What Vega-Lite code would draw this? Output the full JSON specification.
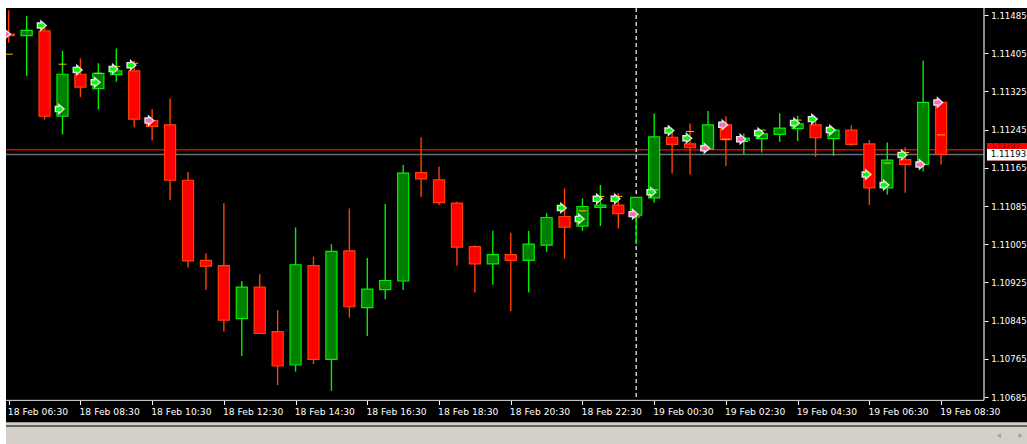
{"$schema":"https://vega.github.io/schema/vega-lite/v6.json","width":1021,"height":436,"autosize":"none","padding":{"left":6,"top":8,"right":0,"bottom":0},"background":"#ffffff","config":{"view":{"fill":"#000000","stroke":null}},
"datasets":{"candles":[
{"t":"2020-02-18T06:30:00Z","o":1.11445,"h":1.11495,"l":1.11427,"c":1.11442,"dir":"down"},
{"t":"2020-02-18T07:00:00Z","o":1.11442,"h":1.11483,"l":1.11357,"c":1.11453,"dir":"up"},
{"t":"2020-02-18T07:30:00Z","o":1.11452,"h":1.1146,"l":1.11266,"c":1.11273,"dir":"down"},
{"t":"2020-02-18T08:00:00Z","o":1.11273,"h":1.1141,"l":1.11235,"c":1.11361,"dir":"up"},
{"t":"2020-02-18T08:30:00Z","o":1.11361,"h":1.11394,"l":1.11313,"c":1.11334,"dir":"down"},
{"t":"2020-02-18T09:00:00Z","o":1.11331,"h":1.11384,"l":1.11287,"c":1.11363,"dir":"up"},
{"t":"2020-02-18T09:30:00Z","o":1.1136,"h":1.11415,"l":1.11345,"c":1.11368,"dir":"up"},
{"t":"2020-02-18T10:00:00Z","o":1.11368,"h":1.11389,"l":1.1125,"c":1.11267,"dir":"down"},
{"t":"2020-02-18T10:30:00Z","o":1.11264,"h":1.11288,"l":1.11222,"c":1.11252,"dir":"down"},
{"t":"2020-02-18T11:00:00Z","o":1.11255,"h":1.1131,"l":1.11097,"c":1.11139,"dir":"down"},
{"t":"2020-02-18T11:30:00Z","o":1.11139,"h":1.11156,"l":1.10956,"c":1.1097,"dir":"down"},
{"t":"2020-02-18T12:00:00Z","o":1.10971,"h":1.10986,"l":1.10909,"c":1.10959,"dir":"down"},
{"t":"2020-02-18T12:30:00Z","o":1.1096,"h":1.11091,"l":1.10822,"c":1.10846,"dir":"down"},
{"t":"2020-02-18T13:00:00Z","o":1.10849,"h":1.10928,"l":1.10771,"c":1.10915,"dir":"up"},
{"t":"2020-02-18T13:30:00Z","o":1.10915,"h":1.10942,"l":1.10818,"c":1.10818,"dir":"down"},
{"t":"2020-02-18T14:00:00Z","o":1.10822,"h":1.10867,"l":1.1071,"c":1.1075,"dir":"down"},
{"t":"2020-02-18T14:30:00Z","o":1.10752,"h":1.1104,"l":1.10738,"c":1.10962,"dir":"up"},
{"t":"2020-02-18T15:00:00Z","o":1.1096,"h":1.10979,"l":1.10754,"c":1.10764,"dir":"down"},
{"t":"2020-02-18T15:30:00Z","o":1.10764,"h":1.11005,"l":1.10698,"c":1.1099,"dir":"up"},
{"t":"2020-02-18T16:00:00Z","o":1.10991,"h":1.1108,"l":1.10851,"c":1.10874,"dir":"down"},
{"t":"2020-02-18T16:30:00Z","o":1.10872,"h":1.10976,"l":1.10813,"c":1.10911,"dir":"up"},
{"t":"2020-02-18T17:00:00Z","o":1.1091,"h":1.11089,"l":1.1089,"c":1.10929,"dir":"up"},
{"t":"2020-02-18T17:30:00Z","o":1.10928,"h":1.11171,"l":1.10909,"c":1.11154,"dir":"up"},
{"t":"2020-02-18T18:00:00Z","o":1.11155,"h":1.11229,"l":1.11104,"c":1.11142,"dir":"down"},
{"t":"2020-02-18T18:30:00Z","o":1.1114,"h":1.11167,"l":1.11087,"c":1.11092,"dir":"down"},
{"t":"2020-02-18T19:00:00Z","o":1.11091,"h":1.11094,"l":1.1096,"c":1.10999,"dir":"down"},
{"t":"2020-02-18T19:30:00Z","o":1.11,"h":1.11003,"l":1.10904,"c":1.10964,"dir":"down"},
{"t":"2020-02-18T20:00:00Z","o":1.10964,"h":1.11033,"l":1.1092,"c":1.10983,"dir":"up"},
{"t":"2020-02-18T20:30:00Z","o":1.10983,"h":1.11029,"l":1.10865,"c":1.10971,"dir":"down"},
{"t":"2020-02-18T21:00:00Z","o":1.10971,"h":1.11033,"l":1.10904,"c":1.11005,"dir":"up"},
{"t":"2020-02-18T21:30:00Z","o":1.11003,"h":1.1107,"l":1.10989,"c":1.11061,"dir":"up"},
{"t":"2020-02-18T22:00:00Z","o":1.11063,"h":1.11122,"l":1.10975,"c":1.11041,"dir":"down"},
{"t":"2020-02-18T22:30:00Z","o":1.11043,"h":1.11101,"l":1.11033,"c":1.11084,"dir":"up"},
{"t":"2020-02-18T23:00:00Z","o":1.11082,"h":1.11129,"l":1.11043,"c":1.11087,"dir":"up"},
{"t":"2020-02-18T23:30:00Z","o":1.11087,"h":1.11112,"l":1.11038,"c":1.11069,"dir":"down"},
{"t":"2020-02-19T00:00:00Z","o":1.11066,"h":1.11104,"l":1.11005,"c":1.11103,"dir":"up"},
{"t":"2020-02-19T00:30:00Z","o":1.11102,"h":1.11279,"l":1.11092,"c":1.1123,"dir":"up"},
{"t":"2020-02-19T01:00:00Z","o":1.11229,"h":1.11242,"l":1.11153,"c":1.11214,"dir":"down"},
{"t":"2020-02-19T01:30:00Z","o":1.11215,"h":1.11258,"l":1.11151,"c":1.11207,"dir":"down"},
{"t":"2020-02-19T02:00:00Z","o":1.11204,"h":1.11284,"l":1.11204,"c":1.11255,"dir":"up"},
{"t":"2020-02-19T02:30:00Z","o":1.11255,"h":1.11273,"l":1.11169,"c":1.11224,"dir":"down"},
{"t":"2020-02-19T03:00:00Z","o":1.11223,"h":1.11237,"l":1.11193,"c":1.11227,"dir":"up"},
{"t":"2020-02-19T03:30:00Z","o":1.11226,"h":1.11244,"l":1.11197,"c":1.11236,"dir":"up"},
{"t":"2020-02-19T04:00:00Z","o":1.11235,"h":1.11279,"l":1.11219,"c":1.11248,"dir":"up"},
{"t":"2020-02-19T04:30:00Z","o":1.11247,"h":1.11274,"l":1.11221,"c":1.11257,"dir":"up"},
{"t":"2020-02-19T05:00:00Z","o":1.11255,"h":1.11265,"l":1.11188,"c":1.11228,"dir":"down"},
{"t":"2020-02-19T05:30:00Z","o":1.11226,"h":1.11248,"l":1.1119,"c":1.11244,"dir":"up"},
{"t":"2020-02-19T06:00:00Z","o":1.11244,"h":1.11254,"l":1.11211,"c":1.11214,"dir":"down"},
{"t":"2020-02-19T06:30:00Z","o":1.11215,"h":1.11223,"l":1.11087,"c":1.11123,"dir":"down"},
{"t":"2020-02-19T07:00:00Z","o":1.11123,"h":1.11218,"l":1.11109,"c":1.11181,"dir":"up"},
{"t":"2020-02-19T07:30:00Z","o":1.11182,"h":1.11208,"l":1.11113,"c":1.11172,"dir":"down"},
{"t":"2020-02-19T08:00:00Z","o":1.11172,"h":1.11389,"l":1.11158,"c":1.11302,"dir":"up"},
{"t":"2020-02-19T08:30:00Z","o":1.11302,"h":1.11302,"l":1.11172,"c":1.11193,"dir":"down"}
],
"signals":[
{"t":"2020-02-18T06:25:00Z","p":1.11445,"kind":"sell"},
{"t":"2020-02-18T10:25:00Z","p":1.11264,"kind":"sell"},
{"t":"2020-02-18T23:55:00Z","p":1.11068,"kind":"sell"},
{"t":"2020-02-19T01:55:00Z","p":1.11206,"kind":"sell"},
{"t":"2020-02-19T02:25:00Z","p":1.11255,"kind":"sell"},
{"t":"2020-02-19T02:55:00Z","p":1.11225,"kind":"sell"},
{"t":"2020-02-19T08:25:00Z","p":1.11302,"kind":"sell"},
{"t":"2020-02-19T07:55:00Z","p":1.11172,"kind":"sell"},
{"t":"2020-02-18T07:25:00Z","p":1.11463,"kind":"buy"},
{"t":"2020-02-18T07:55:00Z","p":1.11288,"kind":"buy"},
{"t":"2020-02-18T08:25:00Z","p":1.1137,"kind":"buy"},
{"t":"2020-02-18T08:55:00Z","p":1.11344,"kind":"buy"},
{"t":"2020-02-18T09:25:00Z","p":1.11372,"kind":"buy"},
{"t":"2020-02-18T09:55:00Z","p":1.1138,"kind":"buy"},
{"t":"2020-02-18T21:55:00Z","p":1.11081,"kind":"buy"},
{"t":"2020-02-18T22:25:00Z","p":1.11058,"kind":"buy"},
{"t":"2020-02-18T22:55:00Z","p":1.111,"kind":"buy"},
{"t":"2020-02-18T23:25:00Z","p":1.111,"kind":"buy"},
{"t":"2020-02-19T00:25:00Z","p":1.11114,"kind":"buy"},
{"t":"2020-02-19T00:55:00Z","p":1.11243,"kind":"buy"},
{"t":"2020-02-19T01:25:00Z","p":1.11227,"kind":"buy"},
{"t":"2020-02-19T03:25:00Z","p":1.11238,"kind":"buy"},
{"t":"2020-02-19T04:25:00Z","p":1.11259,"kind":"buy"},
{"t":"2020-02-19T04:55:00Z","p":1.11267,"kind":"buy"},
{"t":"2020-02-19T05:25:00Z","p":1.11244,"kind":"buy"},
{"t":"2020-02-19T06:25:00Z","p":1.11151,"kind":"buy"},
{"t":"2020-02-19T06:55:00Z","p":1.11129,"kind":"buy"},
{"t":"2020-02-19T07:25:00Z","p":1.11192,"kind":"buy"}
],
"targets":[
{"t":"2020-02-18T06:30:00Z","p":1.11403},
{"t":"2020-02-18T08:00:00Z","p":1.11382},
{"t":"2020-02-18T09:00:00Z","p":1.11363},
{"t":"2020-02-18T09:30:00Z","p":1.11377},
{"t":"2020-02-18T10:00:00Z","p":1.11384},
{"t":"2020-02-18T22:30:00Z","p":1.11075},
{"t":"2020-02-18T23:00:00Z","p":1.11105},
{"t":"2020-02-18T23:30:00Z","p":1.11105},
{"t":"2020-02-19T00:00:00Z","p":1.11062},
{"t":"2020-02-19T00:30:00Z","p":1.11119},
{"t":"2020-02-19T01:30:00Z","p":1.11241},
{"t":"2020-02-19T02:30:00Z","p":1.11225},
{"t":"2020-02-19T03:00:00Z","p":1.1122},
{"t":"2020-02-19T03:30:00Z","p":1.11244},
{"t":"2020-02-19T04:30:00Z","p":1.11265},
{"t":"2020-02-19T07:00:00Z","p":1.11175},
{"t":"2020-02-19T07:30:00Z","p":1.11197},
{"t":"2020-02-19T08:30:00Z","p":1.11234}
]},
"layer":[
{"data":{"name":"candles"},"mark":{"type":"rule","strokeWidth":0,"clip":true},"encoding":{"x":{"field":"t","type":"temporal","scale":{"type":"utc","domain":[1582007129000,1582109628000],"nice":false,"padding":0},"title":null,"axis":{"orient":"bottom","offset":-43.5,"values":[1582007400000,1582014600000,1582021800000,1582029000000,1582036200000,1582043400000,1582050600000,1582057800000,1582065000000,1582072200000,1582079400000,1582086600000,1582093800000,1582101000000],"labelExpr":"utcFormat(datum.value,'%d %b %H:%M')","grid":false,"domain":false,"tickColor":"#ffffff","tickSize":4,"labelColor":"#ffffff","labelFont":"DejaVu Sans","labelFontSize":9.2,"labelAlign":"left","labelOffset":-1.4,"labelPadding":3,"labelOverlap":false,"labelFlush":false,"labelBound":false}},"y":{"field":"l","type":"quantitative","scale":{"domain":[1.105866,1.114997],"nice":false,"zero":false},"title":null,"axis":{"orient":"right","offset":-43,"values":[1.11485,1.11405,1.11325,1.11245,1.11165,1.11085,1.11005,1.10925,1.10845,1.10765,1.10685],"format":".5f","grid":false,"domain":false,"tickColor":"#ffffff","tickSize":4,"labelColor":"#ffffff","labelFont":"DejaVu Sans","labelFontSize":8.6,"labelPadding":2.7,"labelOverlap":false,"labelFlush":false,"labelBound":false}},"y2":{"field":"h"}}},
{"data":{"values":[{"t":1582007129000,"t2":1582109628000,"p":1.10632,"p2":1.105866}]},"mark":{"type":"rect","fill":"#d4d0c8"},"encoding":{"x":{"field":"t","type":"temporal","title":null,"axis":{"labelExpr":"utcFormat(datum.value,'%d %b %H:%M')"},"scale":{"type":"utc","domain":[1582007129000,1582109628000],"nice":false,"padding":0}},"x2":{"field":"t2"},"y":{"field":"p","type":"quantitative","title":null,"axis":{"orient":"right"},"scale":{"domain":[1.105866,1.114997],"nice":false,"zero":false}},"y2":{"field":"p2"}}},
{"data":{"values":[{"t":"2020-02-18T06:25:29Z","t2":1582109628000,"p":1.106245}]},"mark":{"type":"rule","stroke":"#404040","strokeWidth":1.5},"encoding":{"x":{"field":"t","type":"temporal","title":null,"axis":{"labelExpr":"utcFormat(datum.value,'%d %b %H:%M')"},"scale":{"type":"utc","domain":[1582007129000,1582109628000],"nice":false,"padding":0}},"x2":{"field":"t2"},"y":{"field":"p","type":"quantitative","title":null,"axis":{"orient":"right"},"scale":{"domain":[1.105866,1.114997],"nice":false,"zero":false}}}},
{"data":{"values":[{"t":"2020-02-18T06:25:29Z","t2":"2020-02-19T09:41:51Z","p":1.11203}]},"mark":{"type":"rule","strokeWidth":1.5,"stroke":"#e00000"},"encoding":{"x":{"field":"t","type":"temporal","title":null,"axis":{"labelExpr":"utcFormat(datum.value,'%d %b %H:%M')"},"scale":{"type":"utc","domain":[1582007129000,1582109628000],"nice":false,"padding":0}},"x2":{"field":"t2"},"y":{"field":"p","type":"quantitative","title":null,"axis":{"orient":"right"},"scale":{"domain":[1.105866,1.114997],"nice":false,"zero":false}}}},
{"data":{"values":[{"t":"2020-02-18T06:25:29Z","t2":"2020-02-19T09:41:51Z","p":1.11193}]},"mark":{"type":"rule","strokeWidth":1.6,"stroke":"#5f6f78"},"encoding":{"x":{"field":"t","type":"temporal","title":null,"axis":{"labelExpr":"utcFormat(datum.value,'%d %b %H:%M')"},"scale":{"type":"utc","domain":[1582007129000,1582109628000],"nice":false,"padding":0}},"x2":{"field":"t2"},"y":{"field":"p","type":"quantitative","title":null,"axis":{"orient":"right"},"scale":{"domain":[1.105866,1.114997],"nice":false,"zero":false}}}},
{"data":{"values":[{"t":"2020-02-19T00:00:00Z","p":1.114997,"p2":1.10678}]},"mark":{"type":"rule","stroke":"#c8c8c8","strokeWidth":1.5,"strokeDash":[4,3]},"encoding":{"x":{"field":"t","type":"temporal","title":null,"axis":{"labelExpr":"utcFormat(datum.value,'%d %b %H:%M')"},"scale":{"type":"utc","domain":[1582007129000,1582109628000],"nice":false,"padding":0}},"y":{"field":"p","type":"quantitative","title":null,"axis":{"orient":"right"},"scale":{"domain":[1.105866,1.114997],"nice":false,"zero":false}},"y2":{"field":"p2"}}},
{"data":{"values":[{"t":"2020-02-19T09:41:51Z","p":1.114997,"p2":1.10678}]},"mark":{"type":"rule","stroke":"#b8b8b8","strokeWidth":1.5},"encoding":{"x":{"field":"t","type":"temporal","title":null,"axis":{"labelExpr":"utcFormat(datum.value,'%d %b %H:%M')"},"scale":{"type":"utc","domain":[1582007129000,1582109628000],"nice":false,"padding":0}},"y":{"field":"p","type":"quantitative","title":null,"axis":{"orient":"right"},"scale":{"domain":[1.105866,1.114997],"nice":false,"zero":false}},"y2":{"field":"p2"}}},
{"data":{"values":[{"t":"2020-02-18T06:25:29Z","t2":"2020-02-19T09:41:51Z","p":1.10678}]},"mark":{"type":"rule","stroke":"#e0e0e0","strokeWidth":1},"encoding":{"x":{"field":"t","type":"temporal","title":null,"axis":{"labelExpr":"utcFormat(datum.value,'%d %b %H:%M')"},"scale":{"type":"utc","domain":[1582007129000,1582109628000],"nice":false,"padding":0}},"x2":{"field":"t2"},"y":{"field":"p","type":"quantitative","title":null,"axis":{"orient":"right"},"scale":{"domain":[1.105866,1.114997],"nice":false,"zero":false}}}},
{"data":{"name":"candles"},"mark":{"type":"rule","strokeWidth":1.4,"clip":true},"encoding":{"x":{"field":"t","type":"temporal","title":null,"axis":{"labelExpr":"utcFormat(datum.value,'%d %b %H:%M')"},"scale":{"type":"utc","domain":[1582007129000,1582109628000],"nice":false,"padding":0}},"y":{"field":"l","type":"quantitative","title":null,"axis":{"orient":"right"},"scale":{"domain":[1.105866,1.114997],"nice":false,"zero":false}},"y2":{"field":"h"},"stroke":{"field":"dir","type":"nominal","legend":null,"scale":{"domain":["up","down"],"range":["#00f000","#ff4000"]}}}},
{"data":{"name":"candles"},"mark":{"type":"bar","size":11.1,"strokeWidth":1.2,"clip":true},"encoding":{"x":{"field":"t","type":"temporal","title":null,"axis":{"labelExpr":"utcFormat(datum.value,'%d %b %H:%M')"},"scale":{"type":"utc","domain":[1582007129000,1582109628000],"nice":false,"padding":0}},"y":{"field":"o","type":"quantitative","title":null,"axis":{"orient":"right"},"scale":{"domain":[1.105866,1.114997],"nice":false,"zero":false}},"y2":{"field":"c"},"fill":{"field":"dir","type":"nominal","legend":null,"scale":{"domain":["up","down","buy","sell"],"range":["#008000","#ff0000","#00ff00","#ff69b4"]}},"stroke":{"field":"dir","type":"nominal","legend":null,"scale":{"domain":["up","down"],"range":["#00f000","#ff4000"]}}}},
{"data":{"name":"targets"},"mark":{"type":"tick","orient":"horizontal","size":8,"thickness":1,"color":"#ffd800","opacity":0.9,"clip":true},"encoding":{"x":{"field":"t","type":"temporal","title":null,"axis":{"labelExpr":"utcFormat(datum.value,'%d %b %H:%M')"},"scale":{"type":"utc","domain":[1582007129000,1582109628000],"nice":false,"padding":0}},"y":{"field":"p","type":"quantitative","title":null,"axis":{"orient":"right"},"scale":{"domain":[1.105866,1.114997],"nice":false,"zero":false}}}},
{"data":{"name":"signals"},"mark":{"type":"point","shape":"M-0.9,-0.55 L-0.15,-0.55 L-0.15,-1 L1,0 L-0.15,1 L-0.15,0.55 L-0.9,0.55 Z","filled":true,"size":85,"stroke":"#e4e4e4","strokeWidth":1.4,"opacity":1,"clip":true},"encoding":{"x":{"field":"t","type":"temporal","title":null,"axis":{"labelExpr":"utcFormat(datum.value,'%d %b %H:%M')"},"scale":{"type":"utc","domain":[1582007129000,1582109628000],"nice":false,"padding":0}},"y":{"field":"p","type":"quantitative","title":null,"axis":{"orient":"right"},"scale":{"domain":[1.105866,1.114997],"nice":false,"zero":false}},"fill":{"field":"kind","type":"nominal","legend":null,"scale":{"domain":["up","down","buy","sell"],"range":["#008000","#ff0000","#00ff00","#ff69b4"]}}}},
{"data":{"values":[{"t":"2020-02-19T09:46:51Z","t2":1582109628000,"p":1.11217,"p2":1.111804}]},"mark":{"type":"rect","fill":"#ff0000"},"encoding":{"x":{"field":"t","type":"temporal","title":null,"axis":{"labelExpr":"utcFormat(datum.value,'%d %b %H:%M')"},"scale":{"type":"utc","domain":[1582007129000,1582109628000],"nice":false,"padding":0}},"x2":{"field":"t2"},"y":{"field":"p","type":"quantitative","title":null,"axis":{"orient":"right"},"scale":{"domain":[1.105866,1.114997],"nice":false,"zero":false}},"y2":{"field":"p2"}}},
{"data":{"values":[{"t":"2020-02-19T09:53:03Z","p":1.1121,"label":"1.11203"}]},"mark":{"type":"text","align":"left","baseline":"middle","font":"DejaVu Sans","fontSize":7,"fill":"#700000"},"encoding":{"x":{"field":"t","type":"temporal","title":null,"axis":{"labelExpr":"utcFormat(datum.value,'%d %b %H:%M')"},"scale":{"type":"utc","domain":[1582007129000,1582109628000],"nice":false,"padding":0}},"y":{"field":"p","type":"quantitative","title":null,"axis":{"orient":"right"},"scale":{"domain":[1.105866,1.114997],"nice":false,"zero":false}},"text":{"field":"label"}}},
{"data":{"values":[{"t":"2020-02-19T09:46:51Z","t2":1582109628000,"p":1.112044,"p2":1.111803}]},"mark":{"type":"rect","fill":"#ffffff"},"encoding":{"x":{"field":"t","type":"temporal","title":null,"axis":{"labelExpr":"utcFormat(datum.value,'%d %b %H:%M')"},"scale":{"type":"utc","domain":[1582007129000,1582109628000],"nice":false,"padding":0}},"x2":{"field":"t2"},"y":{"field":"p","type":"quantitative","title":null,"axis":{"orient":"right"},"scale":{"domain":[1.105866,1.114997],"nice":false,"zero":false}},"y2":{"field":"p2"}}},
{"data":{"values":[{"t":"2020-02-19T09:53:03Z","p":1.11193,"label":"1.11193"}]},"mark":{"type":"text","align":"left","baseline":"middle","font":"DejaVu Sans","fontSize":8.6,"fill":"#000000"},"encoding":{"x":{"field":"t","type":"temporal","title":null,"axis":{"labelExpr":"utcFormat(datum.value,'%d %b %H:%M')"},"scale":{"type":"utc","domain":[1582007129000,1582109628000],"nice":false,"padding":0}},"y":{"field":"p","type":"quantitative","title":null,"axis":{"orient":"right"},"scale":{"domain":[1.105866,1.114997],"nice":false,"zero":false}},"text":{"field":"label"}}},
{"data":{"values":[{"t":"2020-02-19T10:06:57Z","p":1.10604,"s":"triangle-left"},{"t":"2020-02-19T10:43:05Z","p":1.10604,"s":"triangle-right"}]},"mark":{"type":"point","filled":true,"size":22,"fill":"#a0a0a0","stroke":null,"opacity":1},"encoding":{"x":{"field":"t","type":"temporal","title":null,"axis":{"labelExpr":"utcFormat(datum.value,'%d %b %H:%M')"},"scale":{"type":"utc","domain":[1582007129000,1582109628000],"nice":false,"padding":0}},"y":{"field":"p","type":"quantitative","title":null,"axis":{"orient":"right"},"scale":{"domain":[1.105866,1.114997],"nice":false,"zero":false}},"shape":{"field":"s","type":"nominal","legend":null,"scale":{"domain":["triangle-left","triangle-right"],"range":["triangle-left","triangle-right"]}}}}
]}
